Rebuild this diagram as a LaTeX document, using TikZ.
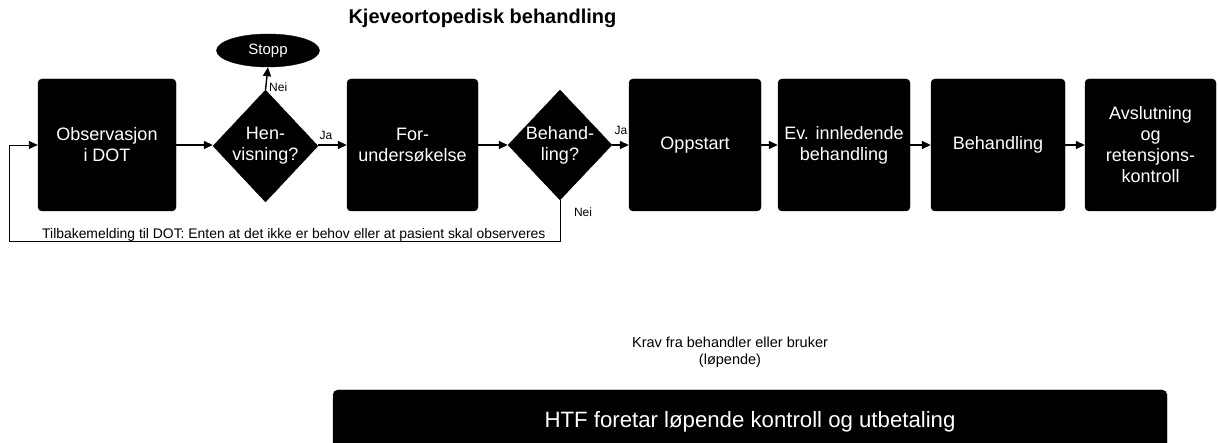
\documentclass[tikz,border=0pt]{standalone}
\usepackage{fontspec}
\setmainfont{Liberation Sans}
\usetikzlibrary{arrows.meta,shapes.geometric}
\begin{document}
\begin{tikzpicture}[x=1pt,y=-1pt,
  stepbox/.style={fill=black,draw=black,rounded corners=4pt,minimum height=132pt,
    inner sep=0pt,text=white,align=center,font=\fontsize{18}{21}\selectfont},
  decision/.style={diamond,fill=black,draw=black,inner sep=0pt},
  dectext/.style={text=white,align=center,font=\fontsize{18}{21}\selectfont},
  flow/.style={line width=1.4pt,-{Triangle[length=9pt,width=8pt]}},
  small/.style={font=\fontsize{12}{14}\selectfont,inner sep=0pt},
]
\useasboundingbox (0,0) rectangle (1218,443);

% title
\node[anchor=base west,font=\bfseries\fontsize{20}{24}\selectfont] (title) at (345,24) {Kjeveortopedisk behandling};

% process boxes
\node[stepbox,minimum width=138pt] (obs) at (107,145) {Observasjon\\i DOT};
\node[stepbox,minimum width=131pt] (fors) at (412.5,145) {For-\\undersøkelse};
\node[stepbox,minimum width=132pt] (opp) at (695,145) {Oppstart};
\node[stepbox,minimum width=132pt] (ev) at (844,145) {Ev. innledende\\behandling};
\node[stepbox,minimum width=134pt] (bh) at (998,145) {Behandling};
\node[stepbox,minimum width=131pt] (avs) at (1150.5,145) {Avslutning\\og\\retensjons-\\kontroll};

% decisions
\node[decision,minimum width=105pt,minimum height=112pt] (hen) at (265.5,146) {};
\node[dectext] (hentext) at (hen.center) {Hen-\\visning?};
\node[decision,minimum width=104pt,minimum height=110pt] (beh) at (560,145) {};
\node[dectext] (behtext) at (beh.center) {Behand-\\ling?};

% terminator
\node[ellipse,fill=black,draw=black,minimum width=103pt,minimum height=33pt,inner sep=0pt,
  text=white,font=\fontsize{15}{18}\selectfont] (stopp) at (268,50.5) {Stopp};

% main flow
\draw[flow] (obs.east |- 0,145) -- (hen.west |- 0,145);
\draw[flow] (hen.east |- 0,145) -- (fors.west);
\draw[flow] (fors.east) -- (beh.west);
\draw[flow] (beh.east) -- (opp.west);
\draw[flow] (opp.east) -- (ev.west);
\draw[flow] (ev.east) -- (bh.west);
\draw[flow] (bh.east) -- (avs.west);
\draw[flow] (hen.north) -- (stopp.south);

% feedback loop
\coordinate (fbcorner) at (9,241);
\draw[line width=0.9pt,-{Triangle[length=9pt,width=8pt]}] (beh.south) |- (fbcorner) |- (obs.west);
\node[anchor=base west,inner sep=0pt,font=\fontsize{13.9}{16}\selectfont] (fbtext) at (42,238.5)
  {Tilbakemelding til DOT: Enten at det ikke er behov eller at pasient skal observeres};

% branch labels
\node[small,anchor=west] (neistopp) at (269,87) {Nei};
\node[small] (jahen) at (326,135) {Ja};
\node[small] (jabeh) at (621,130) {Ja};
\node[small] (neibeh) at (583,212) {Nei};

% claims and payment
\node[align=center,font=\fontsize{14.5}{17}\selectfont] (krav) at (730,352) {Krav fra behandler eller bruker\\(løpende)};
\begin{scope}
  \clip (0,0) rectangle (1218,443);
  \node[fill=black,draw=black,rounded corners=5pt,minimum width=834pt,minimum height=64pt,
    inner sep=0pt,text=white,font=\fontsize{22.2}{26}\selectfont] (htf) at (750,422)
    {\raisebox{4pt}{HTF foretar løpende kontroll og utbetaling}};
\end{scope}
\end{tikzpicture}
\end{document}
